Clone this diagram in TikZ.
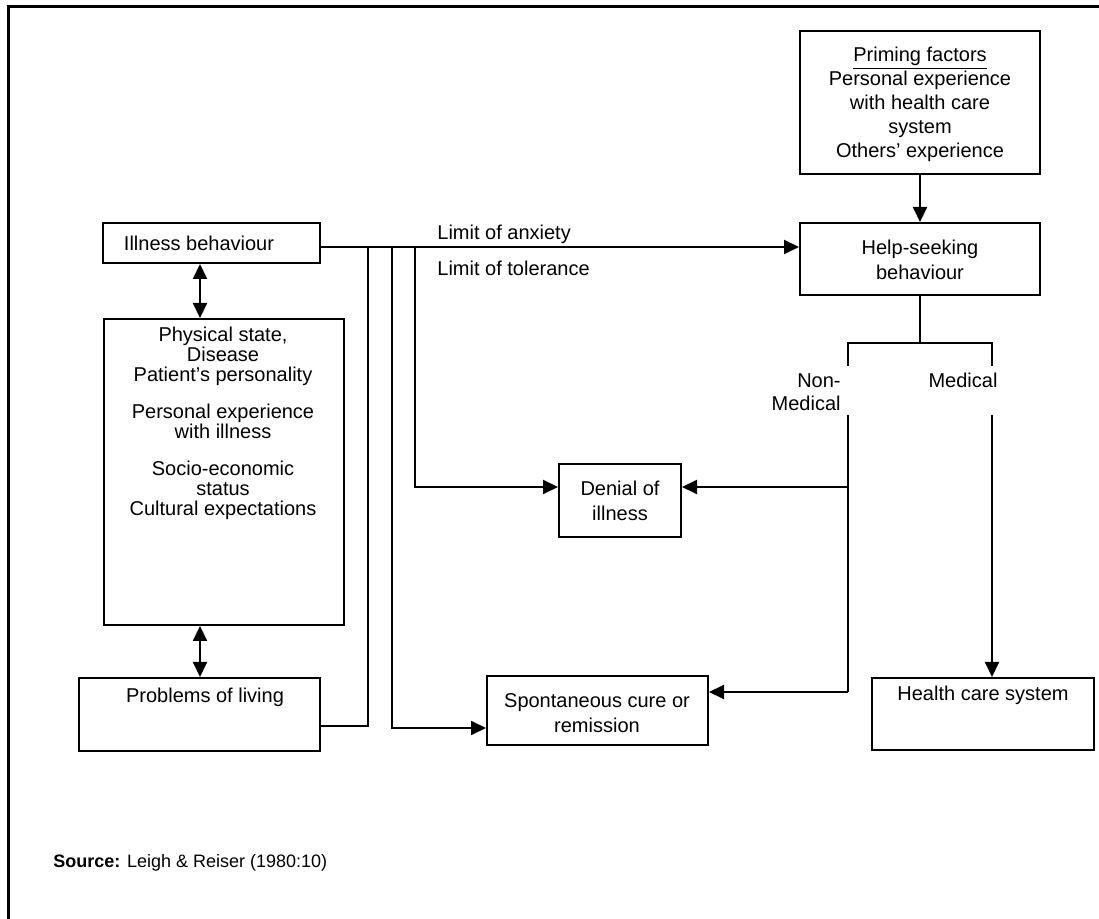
\documentclass[tikz,border=0pt]{standalone}
\usepackage{fontspec}
\setmainfont{Liberation Sans}
\usetikzlibrary{arrows.meta,fit}
\begin{document}
\begin{tikzpicture}[x=0.5pt,y=-0.5pt,
  box/.style={draw,line width=1pt,inner sep=0pt},
  txt/.style={align=center,font=\fontsize{10pt}{12pt}\selectfont,inner sep=0pt},
  link/.style={line width=1pt},
  arr/.style={link,-{Triangle[length=7.5pt,width=7pt]}},
  darr/.style={link,{Triangle[length=7.5pt,width=7pt]}-{Triangle[length=7.5pt,width=7pt]}}]

\useasboundingbox (0,0) rectangle (1099,919);

% outer frame (top and left edges)
\draw[line width=1.5pt] (8,919) -- (8,7) -- (1099,7);

% boxes
\node[box,fit={(800,31) (1040,174)}] (prime) {};
\node[box,fit={(800,223) (1040,295)}] (help) {};
\node[box,fit={(103,223) (320,263)}] (ill) {};
\node[box,fit={(104,319) (344,625)}] (phys) {};
\node[box,fit={(79,678) (320,751)}] (prob) {};
\node[box,fit={(559,464) (681,537)}] (denial) {};
\node[box,fit={(487,676) (708,745)}] (spont) {};
\node[box,fit={(872,678) (1094,750)}] (hcs) {};

% box texts
\node[txt,font=\fontsize{10pt}{12pt}\selectfont] (primeT) at (920,104)
  {\underline{Priming factors}\\Personal experience\\with health care\\system\\Others' experience};
\node[txt,font=\fontsize{10pt}{12.5pt}\selectfont] (helpT) at (920,260) {Help-seeking\\behaviour};
\node[txt] (illT) at (199,243) {Illness behaviour};
\node[txt,font=\fontsize{10pt}{10pt}\selectfont] (physT) at (223,423)
  {Physical state,\\Disease\\Patient's personality\\[8.5pt]Personal experience\\with illness\\[8.5pt]Socio-economic\\status\\Cultural expectations};
\node[txt] (probT) at (205,697) {Problems of living};
\node[txt,font=\fontsize{10pt}{12.5pt}\selectfont] (denialT) at (620,501) {Denial of\\illness};
\node[txt,font=\fontsize{10pt}{12.5pt}\selectfont] (spontT) at (597,713) {Spontaneous cure or\\remission};
\node[txt] (hcsT) at (983,695) {Health care system};

% free labels
\node[txt,anchor=west] (anx) at (437,234) {Limit of anxiety};
\node[txt,anchor=west] (tol) at (437,268) {Limit of tolerance};
\node[txt,anchor=east,align=right,font=\fontsize{10pt}{11.5pt}\selectfont] (nonmed) at (841,392) {Non-\\Medical};
\node[txt] (med) at (963,380) {Medical};
\node[txt,anchor=west,font=\fontsize{9pt}{11pt}\selectfont] (src) at (53,863) {\textbf{Source:} Leigh \& Reiser (1980:10)};

% junction points
\coordinate (b1) at (368,247);
\coordinate (b2) at (392,247);
\coordinate (b3) at (415,247);
\coordinate (split) at (920,343);
\coordinate (nl) at (848,343);
\coordinate (nr) at (992,343);
\coordinate (nlgap) at (848,366);
\coordinate (nrgap) at (992,366);
\coordinate (nl2) at (848,415);
\coordinate (nr2) at (992,415);
\coordinate (nlD) at (848,487);
\coordinate (nlS) at (848,692);
\coordinate (pY) at (0,726);
\coordinate (sY) at (0,728);

% main line from illness behaviour to help-seeking
\draw[arr] (ill.east |- b1) -- (help.west |- b1);

% priming factors feed help-seeking
\draw[arr] (prime.south) -- (help.north);

% two-way links on the left
\draw[darr] (ill.south -| 200,0) -- (phys.north -| 200,0);
\draw[darr] (phys.south -| 200,0) -- (prob.north -| 200,0);

% problems of living joins the main line
\draw[link] (prob.east |- pY) -| (b1);

% branches down to spontaneous cure and denial
\draw[arr] (b2) |- (spont.west |- sY);
\draw[arr] (b3) |- (denial.west |- nlD);

% help-seeking splits into non-medical and medical
\draw[link] (help.south) -- (split);
\draw[link] (nlgap) -- (nl) -- (nr) -- (nrgap);
\draw[link] (nl2) -- (nlS);
\draw[arr] (nlD) -- (denial.east |- nlD);
\draw[arr] (nlS) -- (spont.east |- nlS);
\draw[arr] (nr2) -- (hcs.north -| nr2);

\end{tikzpicture}
\end{document}
